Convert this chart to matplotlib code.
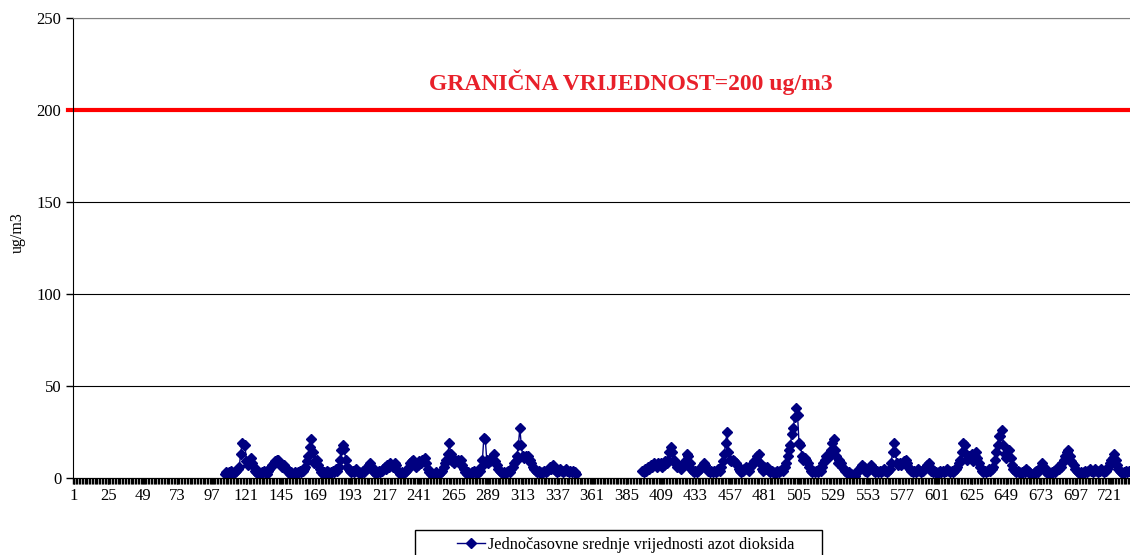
import numpy as np
import matplotlib.pyplot as plt
from matplotlib.patches import Rectangle

# hourly NO2 values (ug/m3), hour index 1..734, gaps where no data
start_a = 106
vals_a = [2, 3, 2, 3, 4, 3, 2, 3, 4, 5,
          6, 13, 19, 18, 18, 9, 7, 9, 11, 8,
          6, 4, 3, 2, 3, 2, 3, 4, 3, 2,
          4, 5, 6, 7, 8, 9, 10, 10, 8, 7,
          6, 7, 6, 5, 3, 2, 3, 2, 2, 3,
          2, 3, 4, 3, 4, 5, 6, 9, 12, 17,
          21, 14, 8, 9, 10, 7, 5, 3, 2, 3,
          2, 4, 3, 2, 3, 4, 3, 5, 4, 6,
          10, 15, 18, 16, 10, 6, 5, 4, 3, 4,
          3, 5, 4, 3, 2, 3, 4, 3, 5, 6,
          7, 8, 6, 4, 3, 2, 3, 4, 3, 4,
          5, 6, 5, 7, 6, 8, 7, 6, 8, 7,
          4, 3, 2, 3, 2, 3, 4, 5, 6, 8,
          9, 10, 8, 6, 7, 9, 8, 10, 9, 11,
          8, 5, 3, 2, 2, 1, 2, 3, 2, 2,
          3, 4, 6, 8, 10, 13, 19, 13, 9, 8,
          10, 9, 10, 8, 10, 7, 5, 3, 2, 3,
          2, 2, 3, 4, 3, 2, 3, 4, 6, 10,
          22, 21, 10, 8, 9, 11, 10, 13, 9, 7,
          5, 4, 3, 2, 3, 2, 3, 4, 3, 5,
          6, 8, 9, 12, 18, 27, 18, 12, 11, 12,
          11, 12, 10, 8, 6, 5, 4, 3, 4, 3,
          2, 3, 4, 3, 4, 5, 6, 5, 7, 5,
          4, 3, 4, 5, 4, 3, 4, 5, 4, 3,
          4, 3, 4, 3, 2]

start_b = 396
vals_b = [4, 3, 5, 4, 6, 5, 7, 6, 8, 7,
          6, 8, 7, 8, 6, 7, 9, 8, 10, 14,
          17, 14, 10, 8, 6, 7, 6, 5, 6, 7,
          9, 13, 12, 8, 5, 4, 3, 4, 3, 4,
          5, 6, 7, 8, 7, 5, 4, 3, 4, 3,
          4, 3, 4, 5, 4, 6, 9, 13, 19, 25,
          14, 10, 9, 10, 9, 8, 7, 5, 4, 3,
          4, 5, 6, 5, 4, 6, 7, 8, 9, 10,
          12, 13, 8, 5, 4, 6, 5, 6, 4, 3,
          4, 3, 2, 3, 4, 3, 4, 5, 4, 6,
          8, 12, 15, 18, 24, 27, 33, 38, 34, 19,
          18, 12, 10, 11, 10, 8, 6, 4, 3, 4,
          3, 4, 3, 5, 4, 6, 8, 10, 12, 11,
          13, 15, 19, 21, 15, 12, 8, 10, 8, 6,
          5, 4, 3, 2, 3, 2, 1, 2, 1, 3,
          4, 5, 6, 7, 6, 4, 3, 5, 6, 7,
          6, 4, 3, 4, 3, 4, 3, 4, 5, 4,
          3, 4, 5, 8, 14, 19, 14, 8, 7, 8,
          7, 8, 9, 10, 8, 6, 5, 4, 3, 4,
          3, 4, 5, 4, 3, 4, 5, 6, 7, 8,
          6, 4, 3, 4, 3, 2, 3, 4, 3, 4,
          3, 4, 5, 4, 3, 4, 3, 4, 5, 6,
          8, 10, 14, 19, 18, 13, 10, 12, 11, 13,
          9, 12, 14, 11, 8, 6, 4, 3, 4, 3,
          4, 5, 4, 5, 6, 10, 14, 18, 23, 23,
          26, 18, 13, 11, 12, 15, 11, 7, 5, 4,
          3, 4, 3, 2, 3, 4, 3, 5, 4, 3,
          2, 1, 2, 3, 4, 3, 5, 6, 8, 6,
          4, 3, 2, 3, 2, 3, 4, 3, 5, 6,
          5, 6, 8, 10, 12, 14, 15, 12, 9, 8,
          7, 5, 4, 3, 2, 3, 2, 3, 4, 3,
          4, 5, 4, 3, 4, 5, 4, 3, 4, 5,
          4, 3, 4, 5, 6, 8, 10, 11, 13, 10,
          7, 5, 4, 3, 2, 3, 4, 3, 4]

n_hours = 734
limit = 200
x_labels = list(range(1, 722, 24))

hours = np.arange(1, n_hours + 1)
conc = np.full(n_hours, np.nan)
conc[start_a - 1:start_a - 1 + len(vals_a)] = vals_a
conc[start_b - 1:start_b - 1 + len(vals_b)] = vals_b

plt.rcParams['font.family'] = ['Liberation Serif', 'DejaVu Serif']

fig = plt.figure(figsize=(11.3, 5.55), dpi=100)
ax = fig.add_axes([73 / 1130, 77 / 555, 1 - 73 / 1130, 460 / 555])

ax.plot(hours, conc, color='#000080', linewidth=1, marker='D', markersize=5.3,
        label='Jednočasovne srednje vrijednosti azot dioksida')
ax.axhline(limit, color='#ff0000', linewidth=3, xmin=-0.005, clip_on=False)
ax.text(388, 215, 'GRANIČNA VRIJEDNOST=200 ug/m3',
        color='#e8202a', fontsize=17, fontweight='bold', ha='center', va='center')

ax.set_xlim(0.5, 735)
ax.set_ylim(0, 250)
ax.set_yticks([0, 50, 100, 150, 200, 250])
ax.set_xticks(x_labels)
ax.set_xticks(np.arange(0.5, 735, 1), minor=True)
ax.tick_params(axis='x', which='both', length=4, width=1, labelsize=12, pad=3)
ax.tick_params(axis='y', length=5, width=1, labelsize=12)
ax.grid(axis='y', color='black', linewidth=0.8)
ax.set_axisbelow(True)
ax.set_ylabel('ug/m3', fontsize=11.5)
ax.yaxis.set_label_coords(-0.0445, 0.533)

ax.spines['right'].set_visible(False)
ax.spines['top'].set_color('#808080')
ax.spines['left'].set_color('black')
ax.spines['bottom'].set_color('black')

# legend box runs off the bottom edge like in the original
fig.patches.append(Rectangle((415 / 1130, -0.05), 407 / 1130, 25 / 555 + 0.05,
                             transform=fig.transFigure, fill=False,
                             edgecolor='black', linewidth=1))
fig.legend(loc='center', bbox_to_anchor=(626 / 1130, 10 / 555),
           fontsize=11.7, frameon=False, handlelength=1.7, handletextpad=0.2,
           borderpad=0, borderaxespad=0)

fig.savefig('out.png', dpi=100)
